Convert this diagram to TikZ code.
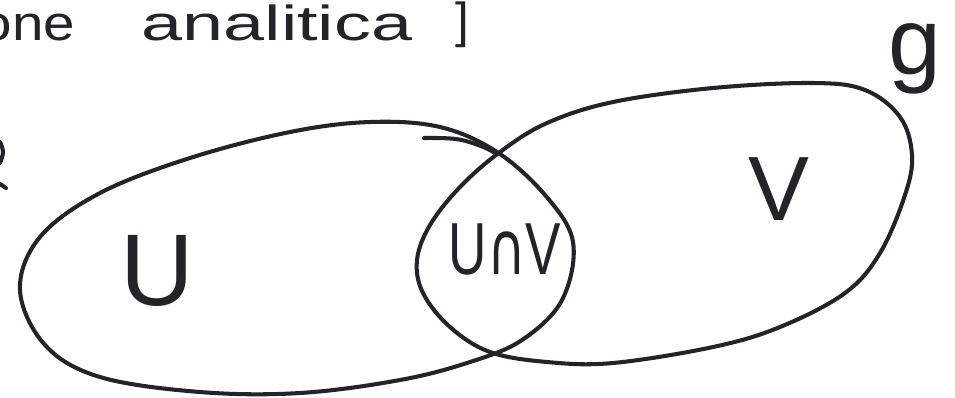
\documentclass[tikz,border=0pt]{standalone}
\usepackage{fontspec}
\setmainfont{Liberation Sans}
\newfontfamily\dvsans{DejaVu Sans}
\definecolor{penink}{RGB}{35,35,40}
\tikzset{
  pen/.style={draw=penink, line width=2.3pt, line cap=round, line join=round},
  hand/.style={text=penink, inner sep=0pt, outer sep=0pt},
}
\begin{document}
\begin{tikzpicture}[x=0.02cm,y=-0.02cm]
\useasboundingbox (0,0) rectangle (955,397);
\clip (0,0) rectangle (955,397);
\fill[white] (0,0) rectangle (955,397);

% left set
\draw[pen] plot[smooth cycle, tension=0.6] coordinates {
  (497,152) (545,195) (573,242) (562,300) (522,340) (470,362) (400,380)
  (300,393) (200,392) (100,377) (45,345) (20,290) (40,237) (100,193)
  (190,158) (290,132) (370,122) (440,127)};
% extra overlapping stroke at the top of the left set
\draw[pen] plot[smooth, tension=0.6] coordinates {(424,138) (456,139) (481,146) (497,154)};

% right set
\draw[pen] plot[smooth cycle, tension=0.6] coordinates {
  (500,152) (547,123) (613,102) (713,88) (813,83) (865,90) (900,117)
  (912,155) (905,195) (880,253) (845,293) (780,327) (713,347) (613,363)
  (547,362) (490,352) (450,327) (423,293) (417,260) (430,225) (460,187)};

% fragment at the left edge
\draw[pen] plot[smooth, tension=0.7] coordinates {(0,142) (3,152) (0,163)};
\draw[pen] (0,184) -- (6,188);

% labels
\node[hand, font=\fontsize{58}{60}\selectfont] (lu) at (157,271) {U};
\node[hand, font=\fontsize{52}{54}\selectfont] (lv) at (779,189) {V};
\node[hand, font=\fontsize{42}{44}\selectfont, xscale=0.72] (luv) at (505,249) {U{\dvsans ∩}V};
\node[hand, font=\fontsize{54}{56}\selectfont, anchor=base] (lg) at (915,74) {g};

% title (its first word is cropped at the left edge, as in the reference)
\node[hand, font=\fontsize{28}{30}\selectfont, anchor=base east, xscale=1.15] (t1) at (75,40) {one};
\node[hand, font=\fontsize{28}{30}\selectfont, anchor=base, xscale=1.5] (t2) at (277,40) {analitica};
\node[hand, font=\fontsize{28}{30}\selectfont, anchor=base] (t3) at (462,37) {]};
\end{tikzpicture}
\end{document}
